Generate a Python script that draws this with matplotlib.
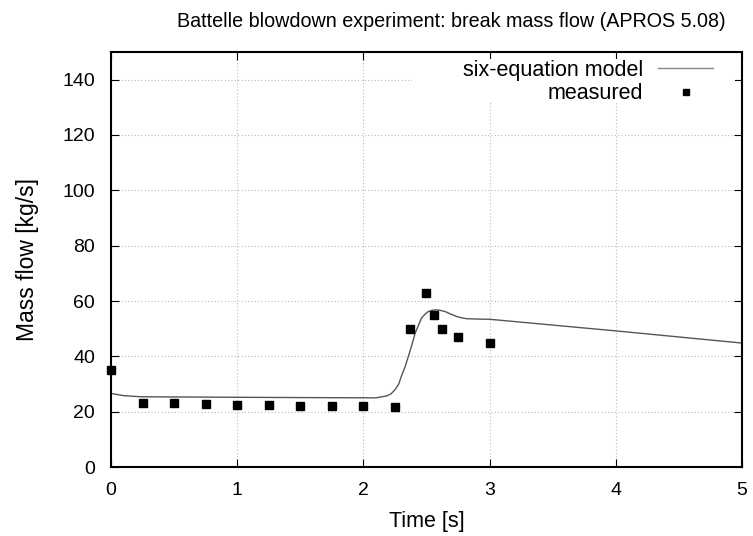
import matplotlib
matplotlib.use("Agg")
import matplotlib.pyplot as plt
from matplotlib.patches import Rectangle
import numpy as np

plt.rcParams['font.family'] = ['Liberation Sans', 'DejaVu Sans']

# six-equation model
t_model = [0.0, 0.1, 0.23, 1.0, 1.5, 2.1, 2.185, 2.22, 2.25, 2.28, 2.30, 2.33,
           2.356, 2.385, 2.41, 2.44, 2.46, 2.49, 2.514, 2.55, 2.58, 2.61, 2.647,
           2.69, 2.74, 2.78, 2.82, 2.92, 3.0, 4.0, 5.0]
m_model = [26.6, 25.8, 25.4, 25.2, 25.1, 25.0, 25.7, 26.5, 27.9, 30.0, 32.7, 36.2,
           39.9, 44.3, 48.4, 51.6, 53.8, 55.3, 56.2, 56.7, 56.8, 56.6, 56.2,
           55.3, 54.4, 53.9, 53.6, 53.45, 53.4, 49.2, 44.8]

# measured points
t_meas = [0.0, 0.25, 0.5, 0.75, 1.0, 1.25, 1.5, 1.75, 2.0, 2.25,
          2.37, 2.5, 2.56, 2.62, 2.75, 3.0]
m_meas = [35, 23, 23, 22.8, 22.5, 22.5, 22.2, 22.2, 22.2, 21.8,
          50, 63, 55, 50, 47, 45]

xticks = [0, 1, 2, 3, 4, 5]
yticks = [0, 20, 40, 60, 80, 100, 120, 140]

fig = plt.figure(figsize=(7.53, 5.36), dpi=100)
ax = fig.add_axes([0.1474, 0.1287, 0.838, 0.7743])

ax.plot(t_model, m_model, color='#555555', lw=1.0, label='six-equation model')
ax.plot(t_meas, m_meas, ls='none', marker='s', ms=5.5, color='black',
        label='measured', clip_on=False)

ax.set_xlim(0, 5)
ax.set_ylim(0, 150)
ax.set_xticks(xticks)
ax.set_yticks(yticks)
ax.grid(True, color='#bbbbbb', ls=(0, (1, 2)), lw=0.8)
ax.tick_params(direction='in', length=6, top=True, right=True, labelsize=14)
ax.tick_params(axis='x', pad=10.5)
ax.tick_params(axis='y', pad=11.5)
for s in ax.spines.values():
    s.set_linewidth(1.5)

# gnuplot-style key box: blanks the grid behind the key
ax.add_patch(Rectangle((0.477, 0.88), 0.512, 0.103, transform=ax.transAxes,
                       facecolor='white', edgecolor='none', zorder=1.6))

ax.set_xlabel('Time [s]', fontsize=15.5, labelpad=9)
ax.set_ylabel('Mass flow [kg/s]', fontsize=16.5, labelpad=17)
ax.set_title('Battelle blowdown experiment: break mass flow (APROS 5.08)',
             fontsize=14.2, pad=18, x=0.539)

leg = ax.legend(loc='upper right', bbox_to_anchor=(0.961, 0.991), markerfirst=False,
                fontsize=15.5, frameon=False, borderaxespad=0, borderpad=0.2,
                handlelength=2.55, handletextpad=0.7, labelspacing=0.1,
                markerscale=0.7)
for txt in leg.get_texts():
    txt.set_ha('right')
leg.get_lines()[0].set_color('#888888')

fig.savefig('out.png', dpi=100)
